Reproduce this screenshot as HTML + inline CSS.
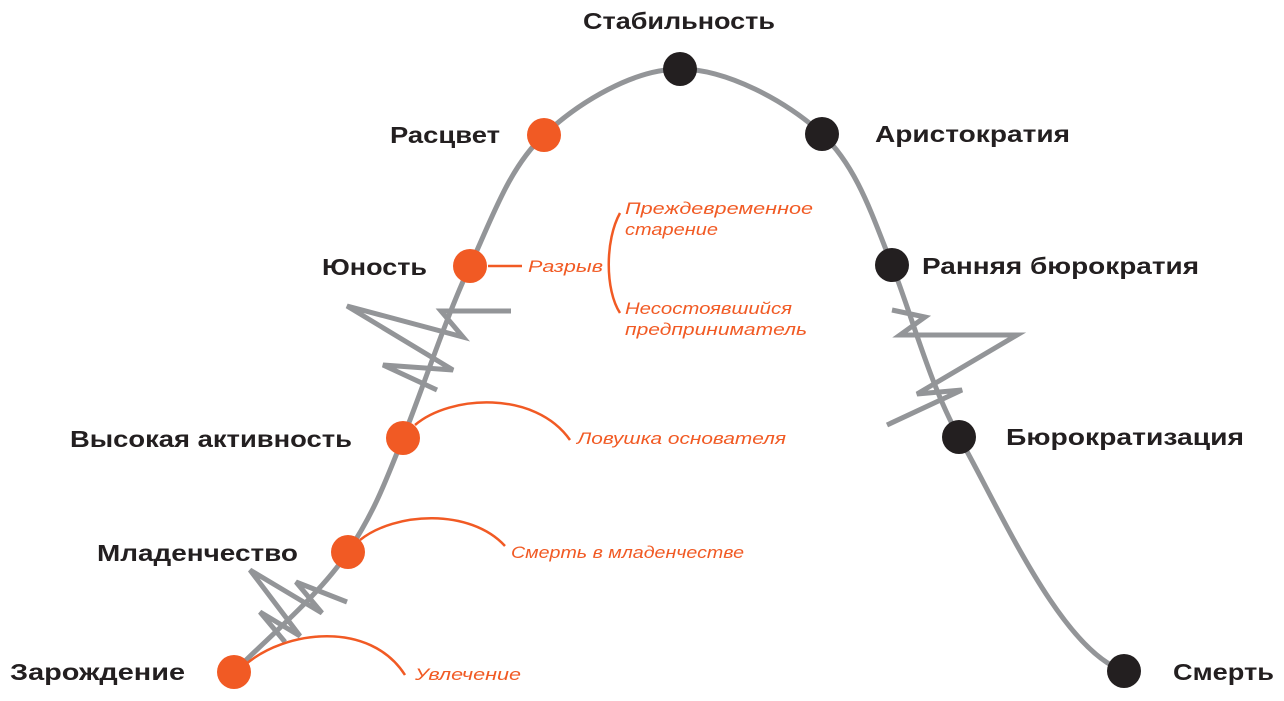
<!DOCTYPE html>
<html><head><meta charset="utf-8"><style>
html,body{margin:0;padding:0;background:#fff;width:1284px;height:701px;overflow:hidden}
svg{display:block}
.b{font-family:"Liberation Sans",sans-serif;font-weight:bold;font-size:23px;fill:#231f20}
.o{font-family:"Liberation Sans",sans-serif;font-style:italic;font-size:17px;fill:#f15a24}
</style></head><body>
<svg width="1284" height="701" viewBox="0 0 1284 701">
<g fill="none" stroke="#939598" stroke-width="5" stroke-linejoin="miter">
<path d="M234,672 C265,640 320,595 348,552 C376,509 386,480 403,438 C423,388 446,317 470,266 C493,216 509,168 544,135 C579,102 634,69 680,69 C726,69 787,101 822,134 C857,167 872,215 892,265 C912,316 930,385 959,437 C998,505 1060,650 1124,671"/>
<path d="M511,311 L441,311 L463,337 L347,306 L453,370 L383,365 L437,390"/>
<path d="M347,602 L296,582 L322,613 L250,570 L300,636 L260,612 L285,642"/>
<path d="M892,310 L925,317 L900,335 L1017,335 L917,394 L962,390 L887,425"/>
</g>
<g fill="none" stroke="#f15a24" stroke-width="2.5">
<path d="M245,665 C285,630 370,620 405,675"/>
<path d="M360,540 C395,512 470,508 505,546"/>
<path d="M415,425 C450,395 535,390 570,440"/>
<path d="M488,266 L522,266"/>
<path d="M620,213 C605,240 605,290 620,313"/>
</g>
<g fill="#f15a24">
<circle cx="234" cy="672" r="17"/><circle cx="348" cy="552" r="17"/><circle cx="403" cy="438" r="17"/><circle cx="470" cy="266" r="17"/><circle cx="544" cy="135" r="17"/>
</g>
<g fill="#231f20">
<circle cx="680" cy="69" r="17"/><circle cx="822" cy="134" r="17"/><circle cx="892" cy="265" r="17"/><circle cx="959" cy="437" r="17"/><circle cx="1124" cy="671" r="17"/>
</g>
<g lengthAdjust="spacingAndGlyphs">
<text class="b" x="583" y="29" textLength="192" lengthAdjust="spacingAndGlyphs">Стабильность</text>
<text class="b" x="390" y="143" textLength="110" lengthAdjust="spacingAndGlyphs">Расцвет</text>
<text class="b" x="322" y="275" textLength="105" lengthAdjust="spacingAndGlyphs">Юность</text>
<text class="b" x="70" y="447" textLength="282" lengthAdjust="spacingAndGlyphs">Высокая активность</text>
<text class="b" x="97" y="561" textLength="201" lengthAdjust="spacingAndGlyphs">Младенчество</text>
<text class="b" x="10" y="680" textLength="175" lengthAdjust="spacingAndGlyphs">Зарождение</text>
<text class="b" x="875" y="142" textLength="195" lengthAdjust="spacingAndGlyphs">Аристократия</text>
<text class="b" x="922" y="274" textLength="277" lengthAdjust="spacingAndGlyphs">Ранняя бюрократия</text>
<text class="b" x="1006" y="445" textLength="238" lengthAdjust="spacingAndGlyphs">Бюрократизация</text>
<text class="b" x="1173" y="680" textLength="101" lengthAdjust="spacingAndGlyphs">Смерть</text>
<text class="o" x="528" y="272" textLength="75" lengthAdjust="spacingAndGlyphs">Разрыв</text>
<text class="o" x="625" y="214" textLength="188" lengthAdjust="spacingAndGlyphs">Преждевременное</text>
<text class="o" x="625" y="235" textLength="93" lengthAdjust="spacingAndGlyphs">старение</text>
<text class="o" x="625" y="314" textLength="167" lengthAdjust="spacingAndGlyphs">Несостоявшийся</text>
<text class="o" x="625" y="335" textLength="182" lengthAdjust="spacingAndGlyphs">предприниматель</text>
<text class="o" x="577" y="444" textLength="209" lengthAdjust="spacingAndGlyphs">Ловушка основателя</text>
<text class="o" x="511" y="558" textLength="233" lengthAdjust="spacingAndGlyphs">Смерть в младенчестве</text>
<text class="o" x="415" y="680" textLength="106" lengthAdjust="spacingAndGlyphs">Увлечение</text>
</g>
</svg>
</body></html>
